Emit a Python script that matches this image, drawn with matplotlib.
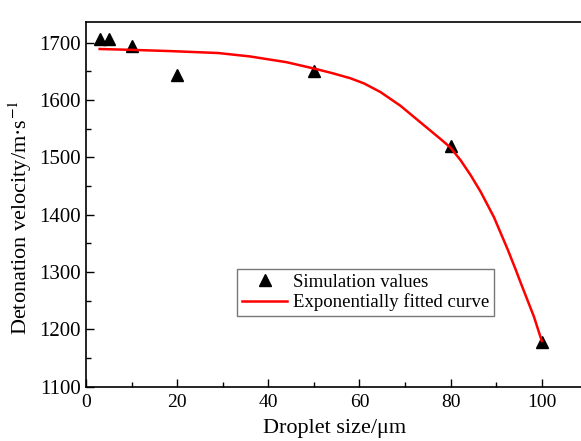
import matplotlib.pyplot as plt
from matplotlib.ticker import MultipleLocator

plt.rcParams['font.family'] = ['Liberation Serif', 'DejaVu Serif']
plt.rcParams['mathtext.fontset'] = 'stix'

# simulation points
size_um = [3, 5, 10, 20, 50, 80, 100]
velocity = [1706, 1707, 1694, 1643, 1651, 1519, 1178]

# fitted curve
fit_x = [3, 10, 18, 29, 36, 44, 50, 54, 58, 61, 64.6, 69, 73.4, 77.8, 80, 82.2, 84.4,
         86.6, 89.5, 92.5, 94.3, 95.4, 98.3, 100]
fit_y = [1689, 1687.5, 1685.5, 1682, 1676, 1666, 1655, 1647, 1638, 1629, 1614, 1590, 1561,
         1532, 1517, 1495, 1469, 1440, 1396, 1340, 1304, 1281, 1222, 1180]

fig = plt.figure(figsize=(5.81, 4.41), dpi=100)
ax = fig.add_axes([0.148, 0.123, 0.855, 0.827])

ax.plot(size_um, velocity, linestyle='none', marker='^', color='black', markersize=9,
        label='Simulation values')
ax.plot(fit_x, fit_y, color='red', linewidth=1.8, label='Exponentially fitted curve')

ax.set_xlim(0, 109)
ax.set_ylim(1100, 1736)
ax.xaxis.set_major_locator(MultipleLocator(20))
ax.xaxis.set_minor_locator(MultipleLocator(10))
ax.yaxis.set_major_locator(MultipleLocator(100))
ax.yaxis.set_minor_locator(MultipleLocator(50))
ax.tick_params(which='both', direction='in')
ax.tick_params(axis='x', labelsize=14, pad=5)
ax.tick_params(axis='y', labelsize=15, pad=4)
ax.tick_params(which='major', length=6, width=1)
ax.tick_params(which='minor', length=3.5, width=1)
ax.spines['right'].set_visible(False)
for s in ['left', 'bottom', 'top']:
    ax.spines[s].set_linewidth(1.2)

ax.set_xlabel('Droplet size/μm', fontsize=16, labelpad=6)
ax.set_ylabel('Detonation velocity/m·s$^{-1}$', fontsize=16)
ax.yaxis.set_label_coords(-0.105, 0.465)

leg = ax.legend(loc='lower left', bbox_to_anchor=(0.305, 0.194), fontsize=13.5, frameon=True,
                fancybox=False, edgecolor='#555555', borderpad=0.25, handlelength=2.4,
                labelspacing=0.15, handletextpad=0.3, borderaxespad=0)
leg.get_frame().set_linewidth(1)

plt.savefig('out.png', dpi=100)
